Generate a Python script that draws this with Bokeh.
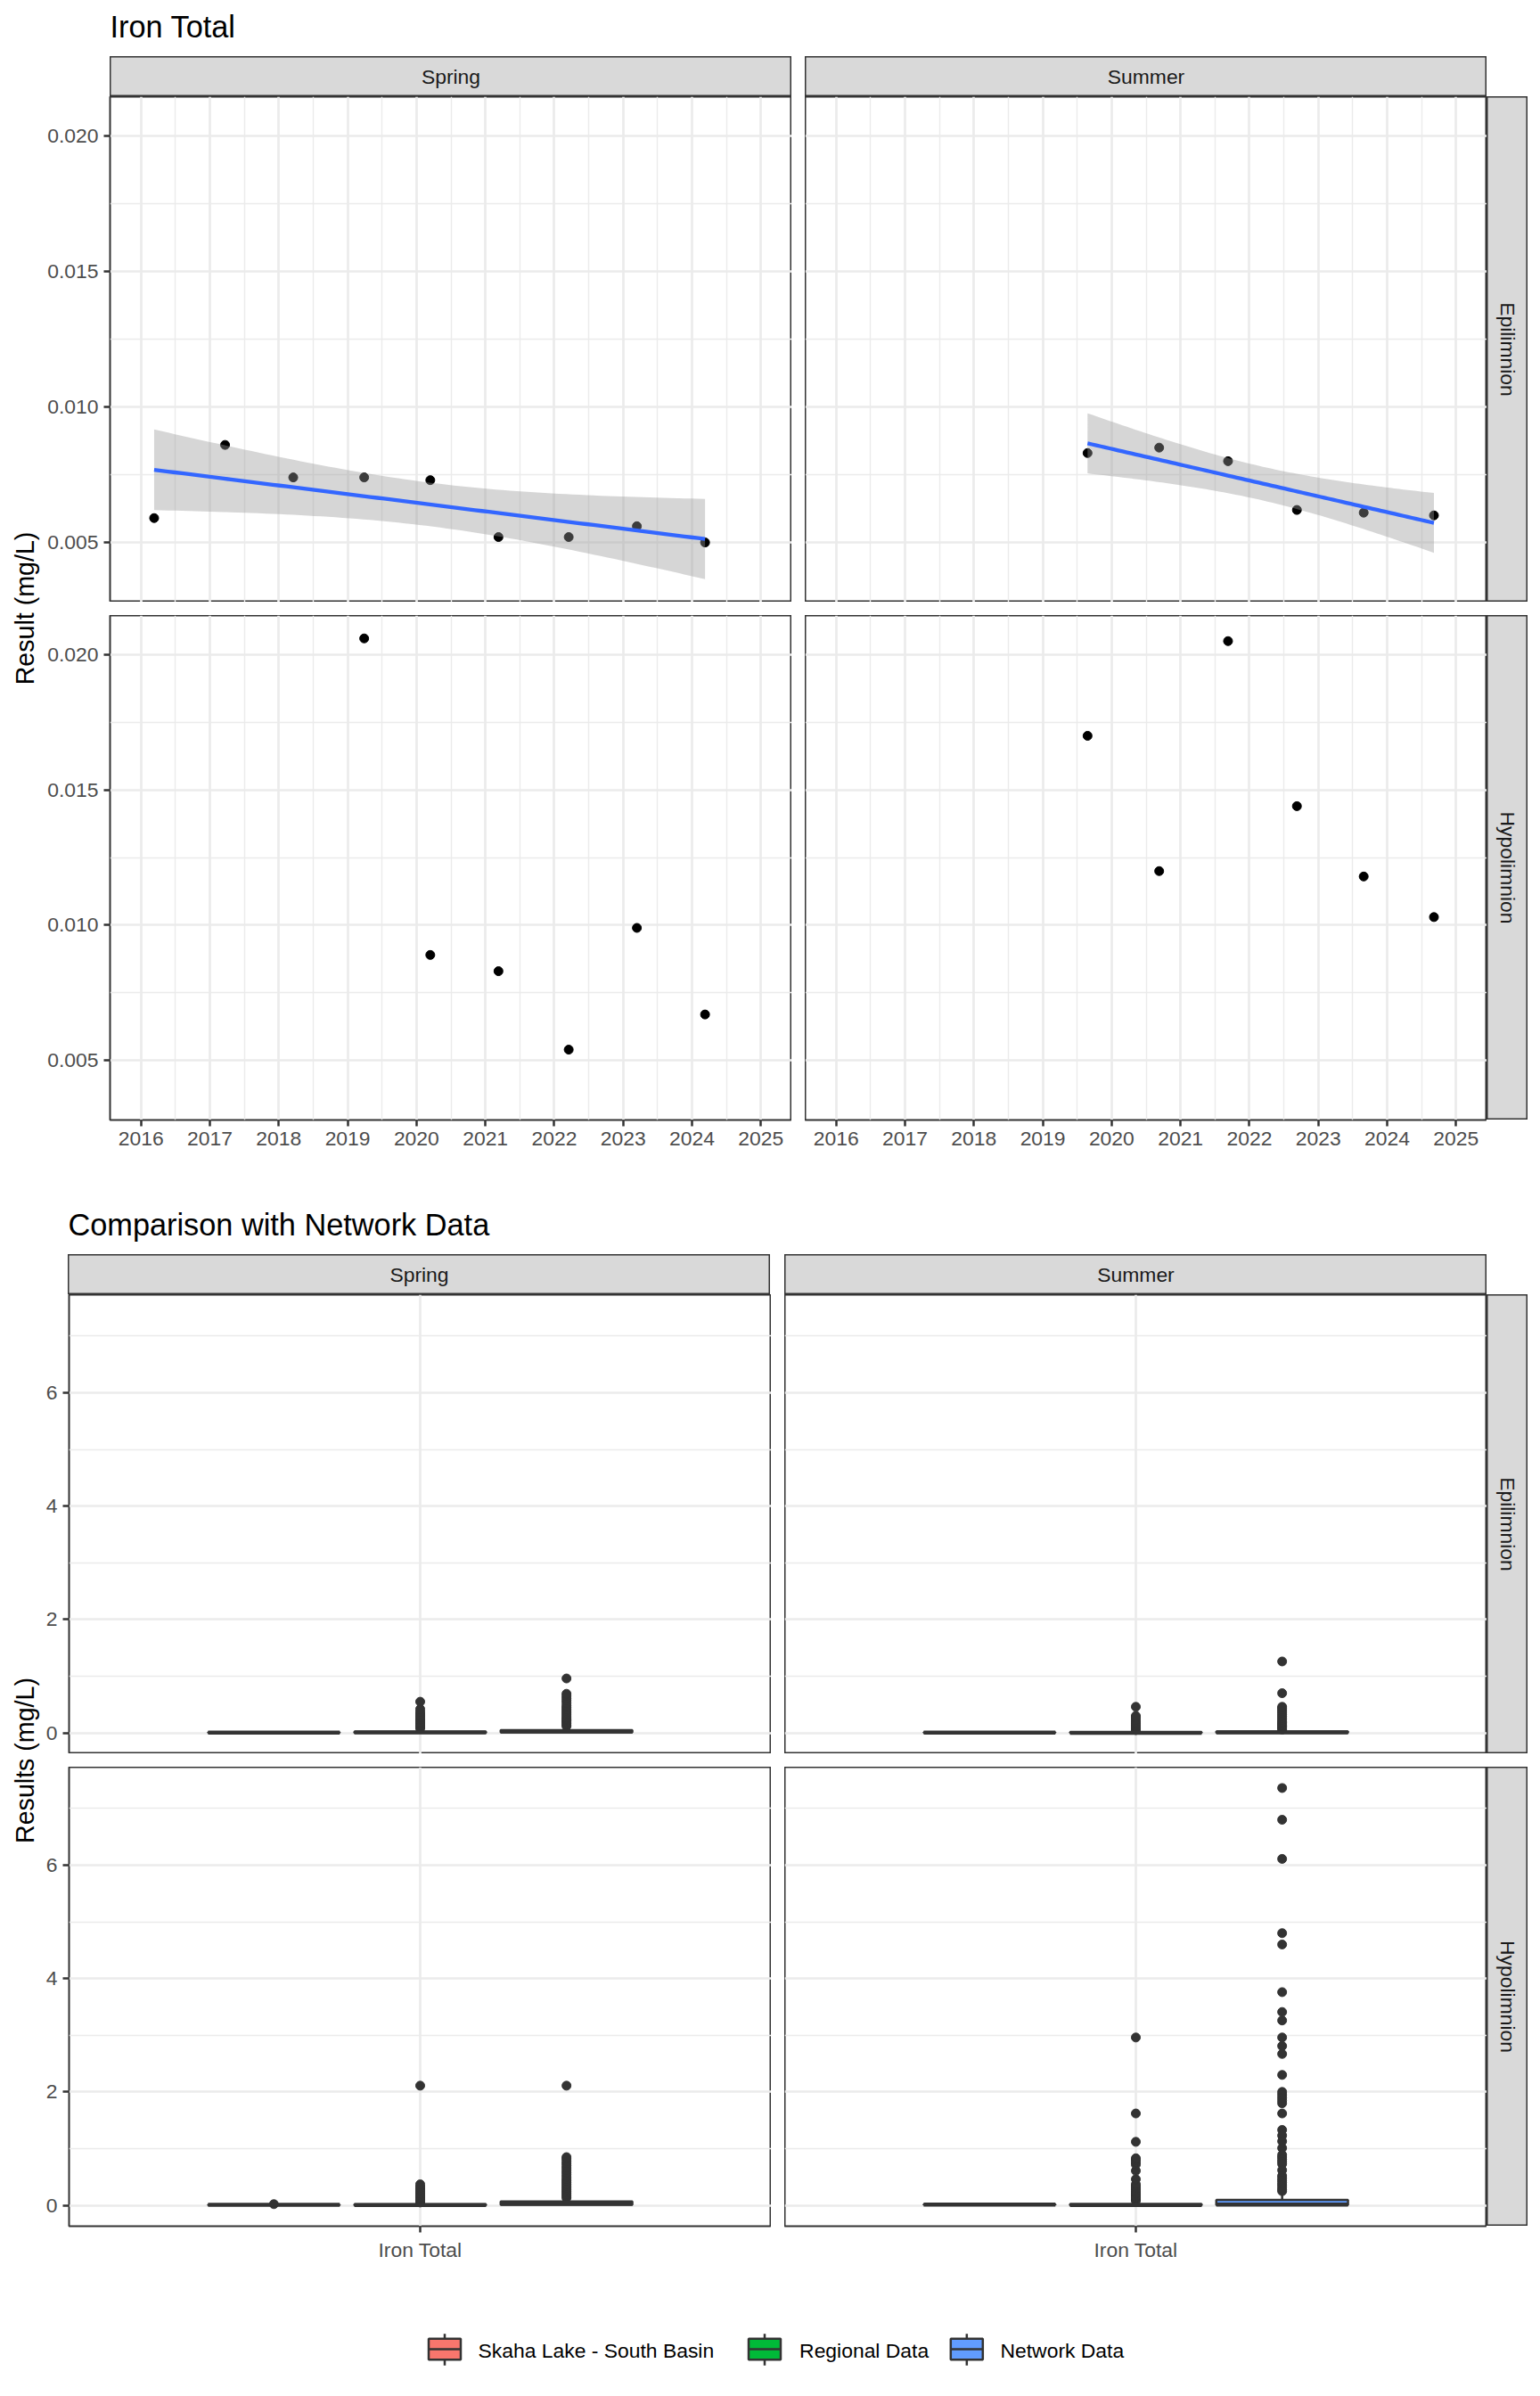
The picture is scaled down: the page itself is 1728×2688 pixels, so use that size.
import numpy as np
from bokeh.plotting import figure
from bokeh.layouts import row, column
from bokeh.models import Range1d, FixedTicker, PrintfTickFormatter, Spacer
from bokeh.embed import file_html
from bokeh.resources import INLINE
from bokeh.core.properties import value

# ------------------------------------------------------------------ data
SEASONS = ["Spring", "Summer"]
LAYERS = ["Epilimnion", "Hypolimnion"]
YEAR_TICKS = [2016, 2017, 2018, 2019, 2020, 2021, 2022, 2023, 2024, 2025]
YEAR_LIMITS = [2016, 2025]
Y_TICKS_TOP = [0.005, 0.010, 0.015, 0.020]

# Iron Total, Skaha Lake - South Basin (mg/L), sampling date as decimal year
spring_epi_year = [2016.19, 2017.22, 2018.21, 2019.24, 2020.20, 2021.19, 2022.21, 2023.20, 2024.19]
spring_epi_val = [0.0059, 0.0086, 0.0074, 0.0074, 0.0073, 0.0052, 0.0052, 0.0056, 0.0050]
summer_epi_year = [2019.65, 2020.69, 2021.69, 2022.69, 2023.66, 2024.68]
summer_epi_val = [0.0083, 0.0085, 0.0080, 0.0062, 0.0061, 0.0060]
spring_hyp_year = [2019.24, 2020.20, 2021.19, 2022.21, 2023.20, 2024.19]
spring_hyp_val = [0.0206, 0.0089, 0.0083, 0.0054, 0.0099, 0.0067]
summer_hyp_year = [2019.65, 2020.69, 2021.69, 2022.69, 2023.66, 2024.68]
summer_hyp_val = [0.0170, 0.0120, 0.0205, 0.0144, 0.0118, 0.0103]

# panels with a fitted linear trend (95% CI); t quantiles by residual df
TREND_PANELS = [("Spring", "Epilimnion"), ("Summer", "Epilimnion")]
T975 = {4: 2.776445, 7: 2.364624}

# comparison chart
PARAMETERS = ["Iron Total"]
GROUPS = ["Skaha Lake - South Basin", "Regional Data", "Network Data"]
GROUP_COLORS = ["#F8766D", "#00BA38", "#619CFF"]
Y_TICKS_BOT = [0, 2, 4, 6]

# box summaries: [lower whisker, Q1, median, Q3, upper whisker] + outliers
regional_spring_epi_box = [0.001, 0.003, 0.008, 0.020, 0.045]
regional_spring_epi_out = [0.08, 0.10, 0.12, 0.14, 0.16, 0.18, 0.20, 0.22, 0.25, 0.28,
                           0.31, 0.34, 0.37, 0.42, 0.55]
network_spring_epi_box = [0.001, 0.010, 0.025, 0.050, 0.100]
network_spring_epi_out = [0.12, 0.14, 0.17, 0.19, 0.21, 0.23, 0.25, 0.27, 0.30, 0.33,
                          0.36, 0.39, 0.42, 0.45, 0.48, 0.53, 0.57, 0.61, 0.65, 0.69, 0.96]
regional_spring_hyp_box = [0.001, 0.002, 0.006, 0.017, 0.040]
regional_spring_hyp_out = [0.05, 0.07, 0.09, 0.11, 0.13, 0.15, 0.17, 0.19, 0.21, 0.24,
                           0.27, 0.30, 0.33, 0.37, 2.11]
network_spring_hyp_box = [0.001, 0.010, 0.030, 0.070, 0.120]
network_spring_hyp_out = [0.13, 0.16, 0.19, 0.22, 0.25, 0.28, 0.31, 0.34, 0.37, 0.40,
                          0.43, 0.46, 0.50, 0.54, 0.58, 0.62, 0.66, 0.70, 0.74, 0.78,
                          0.82, 0.85, 2.11]
regional_summer_epi_box = [0.000, 0.001, 0.003, 0.012, 0.030]
regional_summer_epi_out = [0.05, 0.07, 0.09, 0.11, 0.13, 0.15, 0.17, 0.20, 0.23, 0.27,
                           0.30, 0.46]
network_summer_epi_box = [0.001, 0.003, 0.010, 0.025, 0.050]
network_summer_epi_out = [0.06, 0.08, 0.10, 0.12, 0.14, 0.16, 0.18, 0.20, 0.23, 0.26,
                          0.29, 0.32, 0.35, 0.38, 0.41, 0.44, 0.46, 0.70, 1.26]
regional_summer_hyp_box = [0.000, 0.002, 0.006, 0.022, 0.050]
regional_summer_hyp_out = [0.08, 0.10, 0.12, 0.14, 0.16, 0.18, 0.20, 0.22, 0.25, 0.28,
                           0.31, 0.34, 0.37, 0.46, 0.61, 0.72, 0.76, 0.80, 0.83, 1.12,
                           1.62, 2.96]
network_summer_hyp_box = [0.000, 0.004, 0.015, 0.095, 0.220]
network_summer_hyp_out = [7.36, 6.80, 6.11, 4.80, 4.60, 3.76, 3.41, 3.26, 2.96, 2.81,
                          2.67, 2.30, 2.00, 1.95, 1.90, 1.85, 1.80, 1.62, 1.33, 1.23,
                          1.13, 1.01, 0.89, 0.85, 0.81, 0.77, 0.73, 0.62, 0.52, 0.48,
                          0.44, 0.40, 0.36, 0.32, 0.28, 0.25]

TOP_DATA = {
    ("Spring", "Epilimnion"): (spring_epi_year, spring_epi_val),
    ("Summer", "Epilimnion"): (summer_epi_year, summer_epi_val),
    ("Spring", "Hypolimnion"): (spring_hyp_year, spring_hyp_val),
    ("Summer", "Hypolimnion"): (summer_hyp_year, summer_hyp_val),
}
OTHER_BOXES = {
    ("Spring", "Epilimnion"): [(regional_spring_epi_box, regional_spring_epi_out),
                               (network_spring_epi_box, network_spring_epi_out)],
    ("Spring", "Hypolimnion"): [(regional_spring_hyp_box, regional_spring_hyp_out),
                                (network_spring_hyp_box, network_spring_hyp_out)],
    ("Summer", "Epilimnion"): [(regional_summer_epi_box, regional_summer_epi_out),
                               (network_summer_epi_box, network_summer_epi_out)],
    ("Summer", "Hypolimnion"): [(regional_summer_hyp_box, regional_summer_hyp_out),
                                (network_summer_hyp_box, network_summer_hyp_out)],
}

# ------------------------------------------------------------------ style / layout
FONT = "Liberation Sans"
SMALL = "22.9px"
AXIS_TITLE = "28.6px"
TITLE = "34.3px"
BORDER = "#333333"
GRID = "#EBEBEB"

PAGE_PAD = 8
W_YLAB = 40
T_LEFT = 75
B_LEFT = 28
GAP = 15
STRIP_H = 45
STRIP_W = 46
AXIS_H = 45
T_FW, T_FH1, T_FH2 = 765, 567, 566
B_FW, B_FH = 788, 515
TOTAL_W = W_YLAB + T_LEFT + T_FW + GAP + T_FW + STRIP_W
T_TITLE_H, B_TITLE_H, LEG_H = 55, 106, 120


def expand(lo, hi, mult=0.05):
    d = (hi - lo) * mult
    return lo - d, hi + d


def minor_of(ticks):
    step = ticks[1] - ticks[0]
    return [ticks[0] - step / 2] + [(a + b) / 2 for a, b in zip(ticks[:-1], ticks[1:])] + [ticks[-1] + step / 2]


def lm_band(x, y, n=80):
    x = np.asarray(x, float)
    y = np.asarray(y, float)
    b, a = np.polyfit(x, y, 1)
    gx = np.linspace(x.min(), x.max(), n)
    fit = a + b * gx
    res = y - (a + b * x)
    df = len(x) - 2
    s = np.sqrt((res ** 2).sum() / df)
    sxx = ((x - x.mean()) ** 2).sum()
    se = s * np.sqrt(1.0 / len(x) + (gx - x.mean()) ** 2 / sxx)
    t = T975[df]
    return gx, fit, fit - t * se, fit + t * se


def box_stats(v):
    v = np.asarray(v, float)
    q1, med, q3 = np.percentile(v, [25, 50, 75])
    iqr = q3 - q1
    ok = (v >= q1 - 1.5 * iqr) & (v <= q3 + 1.5 * iqr)
    return [v[ok].min(), q1, med, q3, v[ok].max()], list(v[~ok])


def text_fig(w, h):
    p = figure(width=w, height=h, x_range=Range1d(0, w), y_range=Range1d(0, h),
               x_axis_location=None, y_axis_location=None, min_border=0,
               output_backend="svg", toolbar_location=None)
    p.grid.visible = False
    p.outline_line_color = None
    p.background_fill_color = "white"
    p.border_fill_color = "white"
    return p


def strip_fig(label, w, h, vertical=False):
    p = text_fig(w, h)
    p.background_fill_color = "#D9D9D9"
    p.outline_line_color = BORDER
    p.outline_line_width = 2
    p.text(x=[w / 2], y=[h / 2], text=[label], angle=(-np.pi / 2 if vertical else 0),
           text_font=value(FONT), text_font_size=value(SMALL), text_color="#1A1A1A",
           text_align="center", text_baseline="middle")
    return p


def panel_fig(fw, fh, xr, yr, left, bottom, xaxis, yaxis):
    p = figure(frame_width=fw, frame_height=fh, x_range=xr, y_range=yr,
               x_axis_location=("below" if xaxis else None),
               y_axis_location=("left" if yaxis else None),
               min_border=0, min_border_left=left, min_border_right=0,
               min_border_top=0, min_border_bottom=bottom,
               output_backend="svg", toolbar_location=None)
    p.outline_line_color = BORDER
    p.outline_line_width = 2
    p.background_fill_color = "white"
    p.border_fill_color = "white"
    for ax in p.axis:
        ax.axis_line_color = None
        ax.major_tick_line_color = BORDER
        ax.major_tick_line_width = 2.5
        ax.major_tick_in = 0
        ax.major_tick_out = 7
        ax.minor_tick_line_color = None
        ax.major_label_text_font = FONT
        ax.major_label_text_font_size = SMALL
        ax.major_label_text_color = "#4D4D4D"
        ax.major_label_standoff = 6
    return p


def set_grid(p, xt, xminor, yt, yminor):
    p.xgrid.ticker = FixedTicker(ticks=xt, minor_ticks=xminor)
    p.ygrid.ticker = FixedTicker(ticks=yt, minor_ticks=yminor)
    for g in p.grid:
        g.grid_line_color = GRID
        g.grid_line_width = 2.7
        g.minor_grid_line_color = GRID
        g.minor_grid_line_width = 1.4
    if p.xaxis:
        p.xaxis.ticker = FixedTicker(ticks=xt)
    if p.yaxis:
        p.yaxis.ticker = FixedTicker(ticks=yt)


# ------------------------------------------------------------------ top chart
trends = {k: lm_band(*TOP_DATA[k]) for k in TREND_PANELS}
all_lo = [min(v) for _, v in TOP_DATA.values()] + [t[2].min() for t in trends.values()]
all_hi = [max(v) for _, v in TOP_DATA.values()] + [t[3].max() for t in trends.values()]
ty0, ty1 = expand(min(all_lo), max(all_hi))
tx0, tx1 = expand(*YEAR_LIMITS)
year_minor = minor_of(YEAR_TICKS)
ytop_minor = minor_of(Y_TICKS_TOP)


def top_panel(season, layer):
    left_col = season == SEASONS[0]
    bottom_row = layer == LAYERS[1]
    fh = T_FH2 if bottom_row else T_FH1
    p = panel_fig(T_FW, fh, Range1d(tx0, tx1), Range1d(ty0, ty1),
                  T_LEFT if left_col else 0, AXIS_H if bottom_row else 0,
                  bottom_row, left_col)
    set_grid(p, YEAR_TICKS, year_minor, Y_TICKS_TOP, ytop_minor)
    if p.yaxis:
        p.yaxis.formatter = PrintfTickFormatter(format="%.3f")
    if p.xaxis:
        p.xaxis.formatter = PrintfTickFormatter(format="%d")
    xs, ys = TOP_DATA[(season, layer)]
    p.scatter(xs, ys, size=10, color="black")
    if (season, layer) in trends:
        gx, fit, lo, hi = trends[(season, layer)]
        p.varea(x=gx, y1=lo, y2=hi, fill_color="#999999", fill_alpha=0.4)
        p.line(gx, fit, line_color="#3366FF", line_width=4.3)
    return p


t_title = text_fig(TOTAL_W, T_TITLE_H)
t_title.text(x=[115], y=[34], text=["Iron Total"], text_font=value(FONT),
             text_font_size=value(TITLE), text_color="black",
             text_align="left", text_baseline="middle")

t_ylab = text_fig(W_YLAB, T_FH1 + GAP + T_FH2)
t_ylab.text(x=[19], y=[(T_FH1 + GAP + T_FH2) / 2], text=["Result (mg/L)"], angle=np.pi / 2,
            text_font=value(FONT), text_font_size=value(AXIS_TITLE), text_color="black",
            text_align="center", text_baseline="middle")

top_layout = column(
    t_title,
    row(
        column(Spacer(width=W_YLAB, height=STRIP_H), t_ylab, Spacer(width=W_YLAB, height=AXIS_H)),
        column(row(Spacer(width=T_LEFT, height=STRIP_H), strip_fig(SEASONS[0], T_FW, STRIP_H)),
               top_panel(SEASONS[0], LAYERS[0]),
               Spacer(width=T_LEFT + T_FW, height=GAP),
               top_panel(SEASONS[0], LAYERS[1])),
        Spacer(width=GAP, height=STRIP_H),
        column(strip_fig(SEASONS[1], T_FW, STRIP_H),
               top_panel(SEASONS[1], LAYERS[0]),
               Spacer(width=T_FW, height=GAP),
               top_panel(SEASONS[1], LAYERS[1])),
        column(Spacer(width=STRIP_W, height=STRIP_H),
               strip_fig(LAYERS[0], STRIP_W, T_FH1, vertical=True),
               Spacer(width=STRIP_W, height=GAP),
               strip_fig(LAYERS[1], STRIP_W, T_FH2, vertical=True),
               Spacer(width=STRIP_W, height=AXIS_H)),
    ),
)

# ------------------------------------------------------------------ bottom chart
box_data = {}
for key in OTHER_BOXES:
    skaha = box_stats(TOP_DATA[key][1])
    box_data[key] = [skaha] + OTHER_BOXES[key]

b_lo = min(min(b[0][0], min(b[1]) if b[1] else b[0][0]) for v in box_data.values() for b in v)
b_hi = max(max(b[0][4], max(b[1]) if b[1] else b[0][4]) for v in box_data.values() for b in v)
by0, by1 = expand(b_lo, b_hi)
bx0, bx1 = 1 - 0.6, len(PARAMETERS) + 0.6
ybot_minor = minor_of(Y_TICKS_BOT)
DODGE = 0.75
BOX_W = DODGE / len(GROUPS) * 0.9


def bottom_panel(season, layer):
    left_col = season == SEASONS[0]
    bottom_row = layer == LAYERS[1]
    p = panel_fig(B_FW, B_FH, Range1d(bx0, bx1), Range1d(by0, by1),
                  B_LEFT if left_col else 0, AXIS_H if bottom_row else 0,
                  bottom_row, left_col)
    set_grid(p, [1], [], Y_TICKS_BOT, ybot_minor)
    if p.yaxis:
        p.yaxis.formatter = PrintfTickFormatter(format="%d")
    if p.xaxis:
        p.xaxis.major_label_overrides = {1: PARAMETERS[0]}
    for gi, (stats, outs) in enumerate(box_data[(season, layer)]):
        lw, q1, med, q3, uw = stats
        cx = 1 + (gi - (len(GROUPS) - 1) / 2) * DODGE / len(GROUPS)
        half = BOX_W / 2
        if outs:
            p.scatter([cx] * len(outs), outs, size=10, color=BORDER)
        p.segment(x0=[cx, cx], y0=[q3, q1], x1=[cx, cx], y1=[uw, lw],
                  line_color=BORDER, line_width=2.5)
        p.quad(left=[cx - half], right=[cx + half], bottom=[q1], top=[q3],
               fill_color=GROUP_COLORS[gi], line_color=BORDER, line_width=2.5)
        p.segment(x0=[cx - half], y0=[med], x1=[cx + half], y1=[med],
                  line_color=BORDER, line_width=4.5)
    return p


b_title = text_fig(TOTAL_W, B_TITLE_H)
b_title.text(x=[68], y=[34], text=["Comparison with Network Data"], text_font=value(FONT),
             text_font_size=value(TITLE), text_color="black",
             text_align="left", text_baseline="middle")

b_ylab = text_fig(W_YLAB, 2 * B_FH + GAP)
b_ylab.text(x=[19], y=[(2 * B_FH + GAP) / 2], text=["Results (mg/L)"], angle=np.pi / 2,
            text_font=value(FONT), text_font_size=value(AXIS_TITLE), text_color="black",
            text_align="center", text_baseline="middle")

bottom_layout = column(
    b_title,
    row(
        column(Spacer(width=W_YLAB, height=STRIP_H), b_ylab, Spacer(width=W_YLAB, height=AXIS_H)),
        column(row(Spacer(width=B_LEFT, height=STRIP_H), strip_fig(SEASONS[0], B_FW, STRIP_H)),
               bottom_panel(SEASONS[0], LAYERS[0]),
               Spacer(width=B_LEFT + B_FW, height=GAP),
               bottom_panel(SEASONS[0], LAYERS[1])),
        Spacer(width=GAP, height=STRIP_H),
        column(strip_fig(SEASONS[1], B_FW, STRIP_H),
               bottom_panel(SEASONS[1], LAYERS[0]),
               Spacer(width=B_FW, height=GAP),
               bottom_panel(SEASONS[1], LAYERS[1])),
        column(Spacer(width=STRIP_W, height=STRIP_H),
               strip_fig(LAYERS[0], STRIP_W, B_FH, vertical=True),
               Spacer(width=STRIP_W, height=GAP),
               strip_fig(LAYERS[1], STRIP_W, B_FH, vertical=True),
               Spacer(width=STRIP_W, height=AXIS_H)),
    ),
)

# ------------------------------------------------------------------ legend
leg = text_fig(TOTAL_W, LEG_H)
KEY_X = [490.5, 849.5, 1076.3]
LABEL_X = [528, 888.6, 1114]
KEY_Y = 27
for gi, grp in enumerate(GROUPS):
    kx = KEY_X[gi]
    leg.segment(x0=[kx, kx], y0=[KEY_Y + 11.7, KEY_Y - 11.7], x1=[kx, kx],
                y1=[KEY_Y + 17.3, KEY_Y - 18.3], line_color=BORDER, line_width=2.5)
    leg.quad(left=[kx - 18], right=[kx + 18], bottom=[KEY_Y - 11.7], top=[KEY_Y + 11.7],
             fill_color=GROUP_COLORS[gi], line_color=BORDER, line_width=2.5)
    leg.segment(x0=[kx - 18], y0=[KEY_Y], x1=[kx + 18], y1=[KEY_Y],
                line_color=BORDER, line_width=2.7)
    leg.text(x=[LABEL_X[gi]], y=[KEY_Y - 1], text=[grp], text_font=value(FONT),
             text_font_size=value(SMALL), text_color="black",
             text_align="left", text_baseline="middle")

content = column(top_layout, bottom_layout, leg)
layout = row(Spacer(width=PAGE_PAD, height=PAGE_PAD),
             column(Spacer(width=PAGE_PAD, height=PAGE_PAD), content))
open("out.html", "w").write(file_html(layout, INLINE))
